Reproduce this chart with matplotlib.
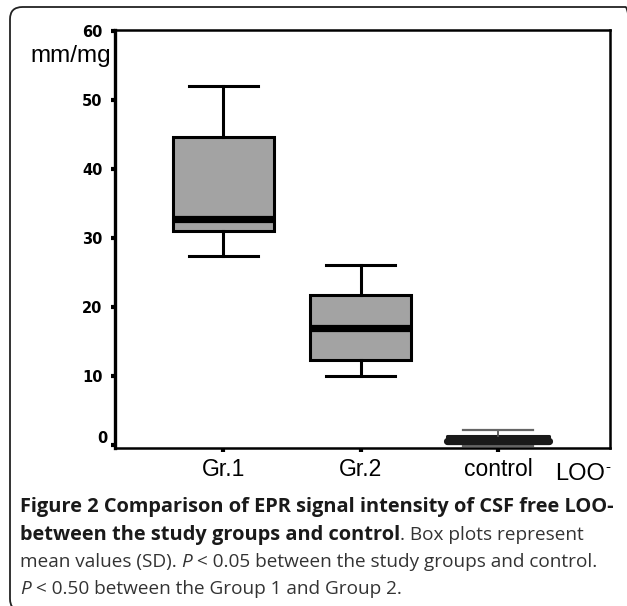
import matplotlib
matplotlib.use("Agg")
import matplotlib.pyplot as plt
from matplotlib.patches import FancyBboxPatch

# ---- data ----
groups = ["Gr.1", "Gr.2", "control"]
whisker_low = [27.4, 10.0, -0.1]
q1 = [31.0, 12.3, 0.25]
median = [32.7, 17.0, 0.6]
q3 = [44.6, 21.7, 1.35]
whisker_high = [52.0, 26.0, 2.1]
yticks = [0, 10, 20, 30, 40, 50, 60]

W, H = 627, 606
fig = plt.figure(figsize=(W / 100, H / 100), dpi=100)

# outer rounded frame
frame = FancyBboxPatch((10 / W, 1 - 611 / H), 628 / W, 604 / H,
                       boxstyle="round,pad=0,rounding_size=0.02",
                       transform=fig.transFigure, fill=False,
                       edgecolor="#222222", linewidth=1.3)
fig.add_artist(frame)

ax = fig.add_axes([115 / W, 1 - 448 / H, (610 - 115) / W, (448 - 30) / H])

stats = []
for i, g in enumerate(groups):
    stats.append(dict(label=g, whislo=whisker_low[i], q1=q1[i], med=median[i],
                      q3=q3[i], whishi=whisker_high[i], fliers=[]))

positions = [1, 2, 3]
bp = ax.bxp(stats, positions=positions, widths=0.736, capwidths=0.503,
            patch_artist=True, showfliers=False,
            boxprops=dict(facecolor="#a3a3a3", edgecolor="black", linewidth=2.2),
            medianprops=dict(color="black", linewidth=5.2, solid_capstyle="butt"),
            whiskerprops=dict(color="black", linewidth=2.2),
            capprops=dict(color="black", linewidth=2.2))

# control box drawn darker with thin grey whiskers
bp["boxes"][2].set_facecolor("#333333")
bp["boxes"][2].set_edgecolor("#1a1a1a")
bp["boxes"][2].set_linewidth(2.2)
bp["boxes"][2].set_joinstyle("round")
bp["medians"][2].set_color("#1a1a1a")
bp["medians"][2].set_solid_capstyle("round")
for k in (4, 5):
    bp["whiskers"][k].set_color("#555555")
    bp["whiskers"][k].set_linewidth(1.3)
    bp["caps"][k].set_color("#666666")
    bp["caps"][k].set_linewidth(1.6)

ax.set_xlim(0.21, 3.816)
ax.set_ylim(-0.45, 60.1)
ax.set_yticks(yticks)
ax.set_yticklabels(["" if t == 0 else str(t) for t in yticks], fontweight="bold",
                   fontsize=10.5, family="DejaVu Sans")
ax.text(-0.016, 0.9, "0", transform=ax.get_yaxis_transform(), ha="right",
        va="center", fontweight="bold", fontsize=10.5, family="DejaVu Sans")
ax.set_xticks(positions)
ax.set_xticklabels(groups, fontsize=16.5, family="Liberation Sans")
ax.tick_params(axis="y", length=3, width=3, pad=6, direction="out")
ax.tick_params(axis="x", length=3, width=3, pad=4.5, direction="out")

for side, lw in zip(["left", "bottom", "top", "right"], [2.4, 1.8, 1.8, 1.8]):
    ax.spines[side].set_linewidth(lw)
    ax.spines[side].set_color("black")

fig.text(30 / W, 1 - 56 / H, "mm/mg", fontsize=17.5, family="Liberation Sans",
         va="center", ha="left")
fig.text(555 / W, 1 - 474 / H, "LOO", fontsize=17, family="Liberation Sans",
         va="center", ha="left")
fig.text(605 / W, 1 - 467 / H, "-", fontsize=11, family="Liberation Sans",
         va="center", ha="left")

# caption (mixed styles)
fig.canvas.draw()
renderer = fig.canvas.get_renderer()
cap_family = "Open Sans"
size_bold = 14.4
size_reg = 13.7
lines = [
    [("Figure 2 Comparison of EPR signal intensity of CSF free LOO-", "bold", "normal")],
    [("between the study groups and control", "bold", "normal"),
     (". Box plots represent", "normal", "normal")],
    [("mean values (SD). ", "normal", "normal"), ("P", "normal", "italic"),
     (" < 0.05 between the study groups and control.", "normal", "normal")],
    [("P", "normal", "italic"),
     (" < 0.50 between the Group 1 and Group 2.", "normal", "normal")],
]
line_y = [507, 535, 562, 589]
for pieces, yy in zip(lines, line_y):
    x = 20
    for txt, wt, st in pieces:
        fs = size_bold if wt == "bold" else size_reg
        col = "#1a1a1a" if wt == "bold" else "#333333"
        t = fig.text(x / W, 1 - yy / H, txt, fontsize=fs, family=cap_family,
                     fontweight=wt, fontstyle=st, va="center", ha="left",
                     color=col)
        bb = t.get_window_extent(renderer=renderer)
        x = bb.x1

fig.savefig("out.png", dpi=100)
